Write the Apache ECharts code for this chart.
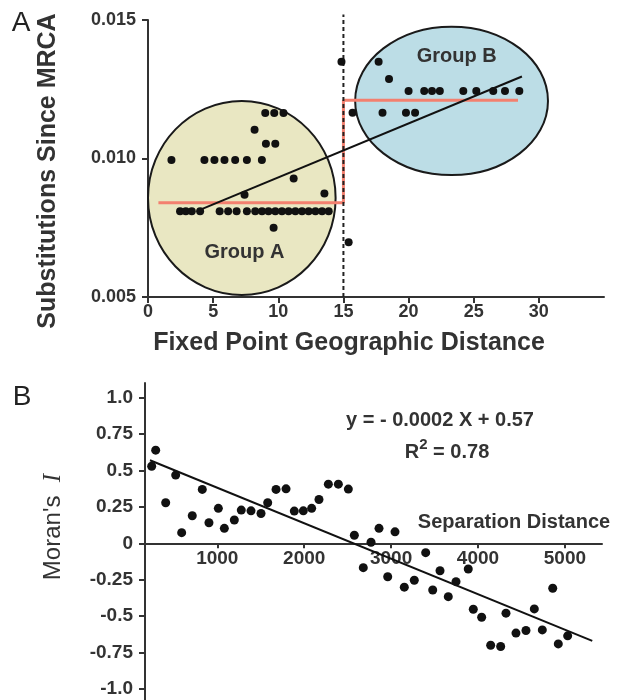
<!DOCTYPE html>
<html><head><meta charset="utf-8">
<script src="https://cdn.jsdelivr.net/npm/echarts@6/dist/echarts.min.js"></script>
<style>html,body{margin:0;padding:0;background:#fff}#c{width:617px;height:700px}</style>
</head><body><div id="c"></div>
<script>
// ---------- Panel A data ----------
const distA = [1.8, 4.33, 5.1, 5.87, 6.69, 7.59, 8.74,
  9.0, 9.69, 10.4, 8.18, 9.05, 9.77, 11.18, 7.41, 13.54, 9.64,
  2.46, 2.9, 3.36, 4.0, 5.5, 6.15, 6.8,
  7.59, 8.23, 8.75, 9.25, 9.77, 10.28, 10.79, 11.31, 11.82, 12.33, 12.85, 13.36, 13.87,
  14.85, 15.4, 17.7, 18.5,
  20.0, 21.2, 21.8, 22.4, 24.2, 25.2, 26.5, 27.4, 28.5,
  15.7, 18.0, 19.8, 20.5];
const subsA = [0.00995, 0.00995, 0.00995, 0.00995, 0.00995, 0.00995, 0.00995,
  0.01164, 0.01164, 0.01164, 0.01104, 0.01053, 0.01053, 0.00928, 0.00869, 0.00874, 0.0075,
  0.0081, 0.0081, 0.0081, 0.0081, 0.0081, 0.0081, 0.0081,
  0.0081, 0.0081, 0.0081, 0.0081, 0.0081, 0.0081, 0.0081, 0.0081, 0.0081, 0.0081, 0.0081, 0.0081, 0.0081,
  0.01349, 0.00698, 0.01349, 0.01287,
  0.01244, 0.01244, 0.01244, 0.01244, 0.01244, 0.01244, 0.01244, 0.01244, 0.01244,
  0.01165, 0.01165, 0.01165, 0.01165];
const regA_X = [3.75, 28.7];
const regA_Y = [0.0081, 0.01296];
const stepA_X = [0.8, 15, 15, 28.4];
const stepA_Y = [0.0084, 0.0084, 0.0121, 0.0121];
const cutA_X = [15, 15];
const cutA_Y = [0.005, 0.0152];
const groupNames = ['Group A', 'Group B'];
const groupCx = [7.2, 23.3];
const groupCy = [0.008575, 0.01208];
const groupRx = [7.2, 7.4];
const groupRy = [0.0035, 0.00268];
const groupLabelX = [7.4, 23.7];
const groupLabelY = [0.00659, 0.0137];
const xTicksA = [0, 5, 10, 15, 20, 25, 30];
const yTicksA = [0.005, 0.010, 0.015];
const yTickLabelsA = ['0.005', '0.010', '0.015'];

// ---------- Panel B data ----------
const distB = [245, 291, 406, 521, 590, 712, 827, 904, 1012, 1081, 1196, 1276, 1388, 1503, 1580, 1676, 1791,
  1886, 1990, 2086, 2170, 2278, 2393, 2508, 2577, 2769, 2861, 3045, 2680, 2961, 3152, 3267, 3398, 3479,
  3563, 3658, 3747, 3888, 3946, 4042, 4146, 4261, 4322, 4437, 4552, 4648, 4740, 4860, 4924, 5032];
const moranB = [0.529, 0.639, 0.278, 0.468, 0.073, 0.189, 0.370, 0.141, 0.240, 0.103, 0.160, 0.228, 0.223, 0.205, 0.278, 0.370, 0.374,
  0.221, 0.223, 0.240, 0.301, 0.406, 0.406, 0.372, 0.055, 0.007, 0.103, 0.079, -0.167, -0.229, -0.301, -0.253, -0.064, -0.320,
  -0.188, -0.366, -0.263, -0.176, -0.452, -0.507, -0.699, -0.708, -0.479, -0.616, -0.598, -0.450, -0.594, -0.308, -0.690, -0.635];
const regB_X = [225, 5315];
const regB_Y = [0.570, -0.669];
const xTicksB = [1000, 2000, 3000, 4000, 5000];
const xTickLabelsB = ['1000', '2000', '3000', '4000', '5000'];
const yTicksB = [-1, -0.75, -0.5, -0.25, 0, 0.25, 0.5, 0.75, 1];
const yTickLabelsB = ['-1.0', '-0.75', '-0.5', '-0.25', '0', '0.25', '0.5', '0.75', '1.0'];
const yMinB = -1.075, yMaxB = 1.1;

const pairs = (xs, ys) => xs.map((x, i) => [x, ys[i]]);
const lookup = (ticks, labels) => v => { const i = ticks.findIndex(t => Math.abs(t - v) < 1e-9); return i >= 0 ? labels[i] : ''; };
const FONT = 'Liberation Sans, Arial, sans-serif';
const AX = '#333';
const axisCommon = {
  axisLine: { lineStyle: { color: AX, width: 2 } },
  splitLine: { show: false }
};
// panel B grid geometry
const gridB = { left: 145, right: 15, top: 383, bottom: 0 };
const gridBHeight = 700 - gridB.top - gridB.bottom;
// distance of the zero line from the bottom of grid B, so the x axis sits at y = 0
const zeroOffsetB = gridBHeight * (0 - yMinB) / (yMaxB - yMinB);

const chart = echarts.init(document.getElementById('c'));
chart.setOption({
  animation: false,
  backgroundColor: '#fff',
  grid: [
    { left: 148, right: 13, top: 20, bottom: 403, outerBoundsMode: 'none', containLabel: false },
    Object.assign({ outerBoundsMode: 'none', containLabel: false }, gridB)
  ],
  xAxis: [
    Object.assign({}, axisCommon, {
      gridIndex: 0, type: 'value', min: 0, max: 35,
      axisTick: { customValues: xTicksA, length: 6, lineStyle: { color: AX, width: 2 } },
      axisLabel: { customValues: xTicksA, color: AX, fontWeight: 'bold', fontSize: 18, fontFamily: FONT, margin: 6 }
    }),
    Object.assign({}, axisCommon, {
      gridIndex: 1, type: 'value', min: 168, max: 5427, position: 'bottom', offset: -zeroOffsetB,
      axisLine: { onZero: false, lineStyle: { color: AX, width: 2 } },
      axisTick: { customValues: xTicksB, length: 5, lineStyle: { color: AX, width: 2 } },
      axisLabel: { customValues: xTicksB, color: AX, fontWeight: 'bold', fontSize: 19, fontFamily: FONT, margin: 6,
        formatter: lookup(xTicksB, xTickLabelsB) }
    })
  ],
  yAxis: [
    Object.assign({}, axisCommon, {
      gridIndex: 0, type: 'value', min: 0.005, max: 0.015,
      axisTick: { customValues: yTicksA, length: 6, lineStyle: { color: AX, width: 2 } },
      axisLabel: { customValues: yTicksA, color: AX, fontWeight: 'bold', fontSize: 18, fontFamily: FONT, margin: 12,
        formatter: lookup(yTicksA, yTickLabelsA) }
    }),
    Object.assign({}, axisCommon, {
      gridIndex: 1, type: 'value', min: yMinB, max: yMaxB,
      axisLine: { onZero: false, lineStyle: { color: AX, width: 2 } },
      axisTick: { customValues: yTicksB, length: 6, lineStyle: { color: AX, width: 2 } },
      axisLabel: { customValues: yTicksB, color: AX, fontWeight: 'bold', fontSize: 19, fontFamily: FONT, margin: 12,
        formatter: lookup(yTicksB, yTickLabelsB) }
    })
  ],
  series: [
    {
      type: 'custom', xAxisIndex: 0, yAxisIndex: 0, z: 1, clip: false,
      data: groupNames.map((n, i) => [groupCx[i], groupCy[i], groupRx[i], groupRy[i], groupLabelX[i], groupLabelY[i]]),
      renderItem: (params, api) => {
        const i = params.dataIndex;
        const c = api.coord([api.value(0), api.value(1)]);
        const s = api.size([api.value(2), api.value(3)]);
        const l = api.coord([api.value(4), api.value(5)]);
        return {
          type: 'group',
          children: [
            { type: 'ellipse', shape: { cx: c[0], cy: c[1], rx: s[0], ry: s[1] },
              style: { fill: i === 0 ? '#e9e7c2' : '#bcdde6', stroke: '#1a1a1a', lineWidth: 2 } },
            { type: 'text', x: l[0], y: l[1],
              style: { text: groupNames[i], fill: '#333', font: 'bold 20px ' + FONT, align: 'center', verticalAlign: 'middle' } }
          ]
        };
      }
    },
    { type: 'line', xAxisIndex: 0, yAxisIndex: 0, z: 2, symbol: 'none', clip: false,
      data: pairs(stepA_X, stepA_Y), lineStyle: { color: '#f3806f', width: 3 } },
    { type: 'line', xAxisIndex: 0, yAxisIndex: 0, z: 3, symbol: 'none', clip: false,
      data: pairs(cutA_X, cutA_Y), lineStyle: { color: '#222', width: 2, type: [4, 3] } },
    { type: 'line', xAxisIndex: 0, yAxisIndex: 0, z: 4, symbol: 'none',
      data: pairs(regA_X, regA_Y), lineStyle: { color: '#111', width: 2 } },
    { type: 'scatter', xAxisIndex: 0, yAxisIndex: 0, z: 5, symbolSize: 8,
      data: pairs(distA, subsA), itemStyle: { color: '#111', opacity: 1 } },
    { type: 'line', xAxisIndex: 1, yAxisIndex: 1, z: 4, symbol: 'none',
      data: pairs(regB_X, regB_Y), lineStyle: { color: '#111', width: 2 } },
    { type: 'scatter', xAxisIndex: 1, yAxisIndex: 1, z: 5, symbolSize: 9,
      data: pairs(distB, moranB), itemStyle: { color: '#111', opacity: 1 } }
  ],
  graphic: [
    { type: 'text', x: 21, y: 23, style: { text: 'A', font: '28px ' + FONT, fill: '#222', align: 'center', verticalAlign: 'middle' } },
    { type: 'text', x: 22, y: 397, style: { text: 'B', font: '28px ' + FONT, fill: '#222', align: 'center', verticalAlign: 'middle' } },
    { type: 'text', x: 48, y: 171, rotation: Math.PI / 2,
      style: { text: 'Substitutions Since MRCA', font: 'bold 25px ' + FONT, fill: '#333', align: 'center', verticalAlign: 'middle' } },
    { type: 'text', x: 349, y: 343,
      style: { text: 'Fixed Point Geographic Distance', font: 'bold 25px ' + FONT, fill: '#333', align: 'center', verticalAlign: 'middle' } },
    { type: 'text', x: 53, y: 527, rotation: Math.PI / 2,
      style: { text: "Moran's  {i|I}", font: '24px ' + FONT, fill: '#333', align: 'center', verticalAlign: 'middle',
        rich: { i: { fontFamily: 'Liberation Serif, DejaVu Serif, serif', fontStyle: 'italic', fontSize: 25, fill: '#333' } } } },
    { type: 'text', x: 440, y: 420,
      style: { text: 'y = - 0.0002 X + 0.57', font: 'bold 20px ' + FONT, fill: '#333', align: 'center', verticalAlign: 'middle' } },
    { type: 'text', x: 447, y: 452,
      style: { text: 'R{s|2} = 0.78', font: 'bold 20px ' + FONT, fill: '#333', align: 'center', verticalAlign: 'middle',
        rich: { s: { fontSize: 15, fontWeight: 'bold', fontFamily: FONT, verticalAlign: 'top', lineHeight: 30, fill: '#333' } } } },
    { type: 'text', x: 514, y: 522,
      style: { text: 'Separation Distance', font: 'bold 20px ' + FONT, fill: '#333', align: 'center', verticalAlign: 'middle' } }
  ]
});
</script></body></html>
